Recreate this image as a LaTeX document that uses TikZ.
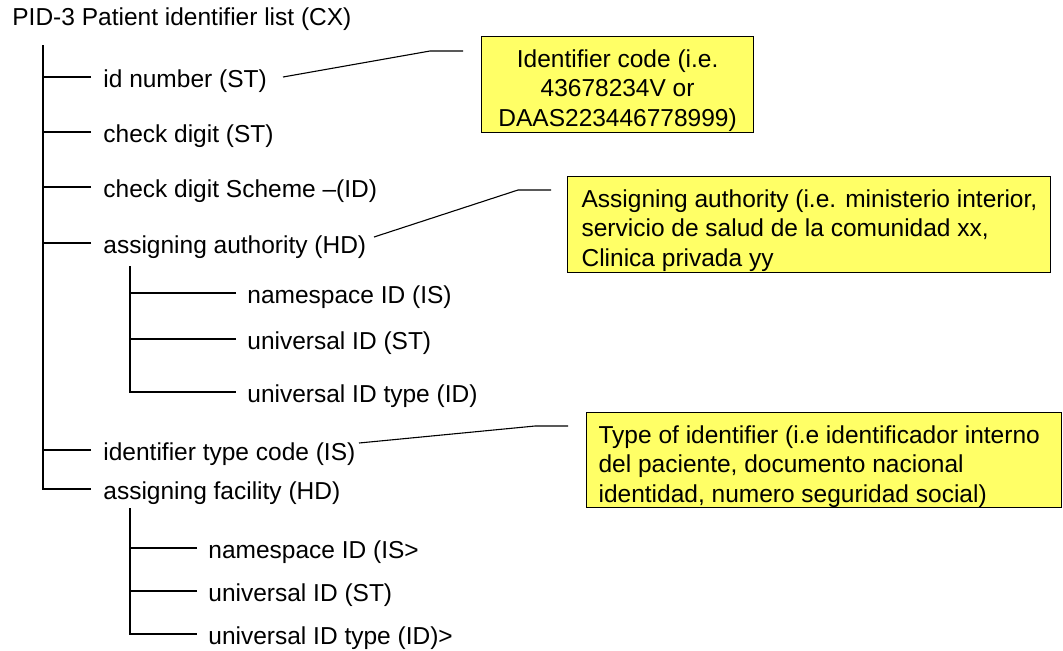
\documentclass[tikz,border=0pt]{standalone}
\usepackage{fontspec}
\setmainfont{Liberation Sans}
\definecolor{noteyellow}{RGB}{255,255,102}
\begin{document}
\begin{tikzpicture}[x=0.5pt,y=-0.5pt,
  font=\fontsize{12.25pt}{14.75pt}\selectfont,
  lbl/.style={anchor=base west, inner sep=0pt},
  note/.style={draw=black, line width=0.6pt, fill=noteyellow, inner ysep=0pt, inner xsep=0pt, anchor=north west},
  spine/.style={line width=1pt},
  twig/.style={line width=0.6pt},
  leader/.style={line width=0.55pt}]
\useasboundingbox (0,0) rectangle (1063,650);

% title and tree labels
\node[lbl] (title)  at (12,25)   {PID-3 Patient identifier list (CX)};
\node[lbl] (idnum)  at (103,87)  {id number (ST)};
\node[lbl] (chk)    at (103,142) {check digit (ST)};
\node[lbl] (scheme) at (103,197) {check digit Scheme \textendash(ID)};
\node[lbl] (auth)   at (103,253) {assigning authority (HD)};
\node[lbl] (nsa)    at (247,303) {namespace ID (IS)};
\node[lbl] (uida)   at (247,349) {universal ID (ST)};
\node[lbl] (uidta)  at (247,402) {universal ID type (ID)};
\node[lbl] (idtype) at (103,460) {identifier type code (IS)};
\node[lbl] (fac)    at (103,499) {assigning facility (HD)};
\node[lbl] (nsb)    at (208,558) {namespace ID (IS>};
\node[lbl] (uidb)   at (208,601) {universal ID (ST)};
\node[lbl] (uidtb)  at (208,644) {universal ID type (ID)>};

% notes
\node[note] (box1) at (481,36) {\parbox[c][48pt][t]{136pt}{\centering\rule{0pt}{15.25pt}Identifier code (i.e.\\43678234V or\\DAAS223446778999)}};
\node[note] (box2) at (567,176) {\parbox[c][48pt][t]{241.5pt}{\raggedright\leftskip=7pt\rule{0pt}{15.25pt}Assigning authority (i.e. ministerio interior,\\servicio de salud de la comunidad xx,\\Clinica privada yy}};
\node[note] (box3) at (586,412) {\parbox[c][47.5pt][t]{237.5pt}{\raggedright\leftskip=6pt\rule{0pt}{15.25pt}Type of identifier (i.e identificador interno\\del paciente, documento nacional\\identidad, numero seguridad social)}};

% main spine
\coordinate (s0) at (43,45);
\draw[spine] (s0) |- ([shift={(-12,-10)}]fac.base west);
\foreach \n in {idnum,chk,scheme,auth,idtype}
  \draw[twig] ([shift={(-12,-10)}]\n.base west) -- +(-48,0);

% sub spine for assigning authority
\coordinate (a0) at (130,266);
\draw[twig] (a0) |- ([shift={(-11,-10)}]uidta.base west);
\foreach \n in {nsa,uida}
  \draw[twig] ([shift={(-11,-10)}]\n.base west) -- +(-106,0);

% sub spine for assigning facility
\coordinate (b0) at (130,508);
\draw[twig] (b0) |- ([shift={(-11,-10)}]uidtb.base west);
\foreach \n in {nsb,uidb}
  \draw[twig] ([shift={(-11,-10)}]\n.base west) -- +(-67,0);

% leaders
\coordinate (l1a) at (283,77);
\coordinate (l1b) at (430,51);
\draw[leader] (l1a) -- (l1b) -- ([xshift=-9]box1.west |- l1b);
\coordinate (l2a) at (374,237);
\coordinate (l2b) at (518,190);
\draw[leader] (l2a) -- (l2b) -- ([xshift=-8]box2.west |- l2b);
\coordinate (l3a) at (359,443);
\coordinate (l3b) at (535,426);
\draw[leader] (l3a) -- (l3b) -- ([xshift=-9]box3.west |- l3b);
\end{tikzpicture}
\end{document}
